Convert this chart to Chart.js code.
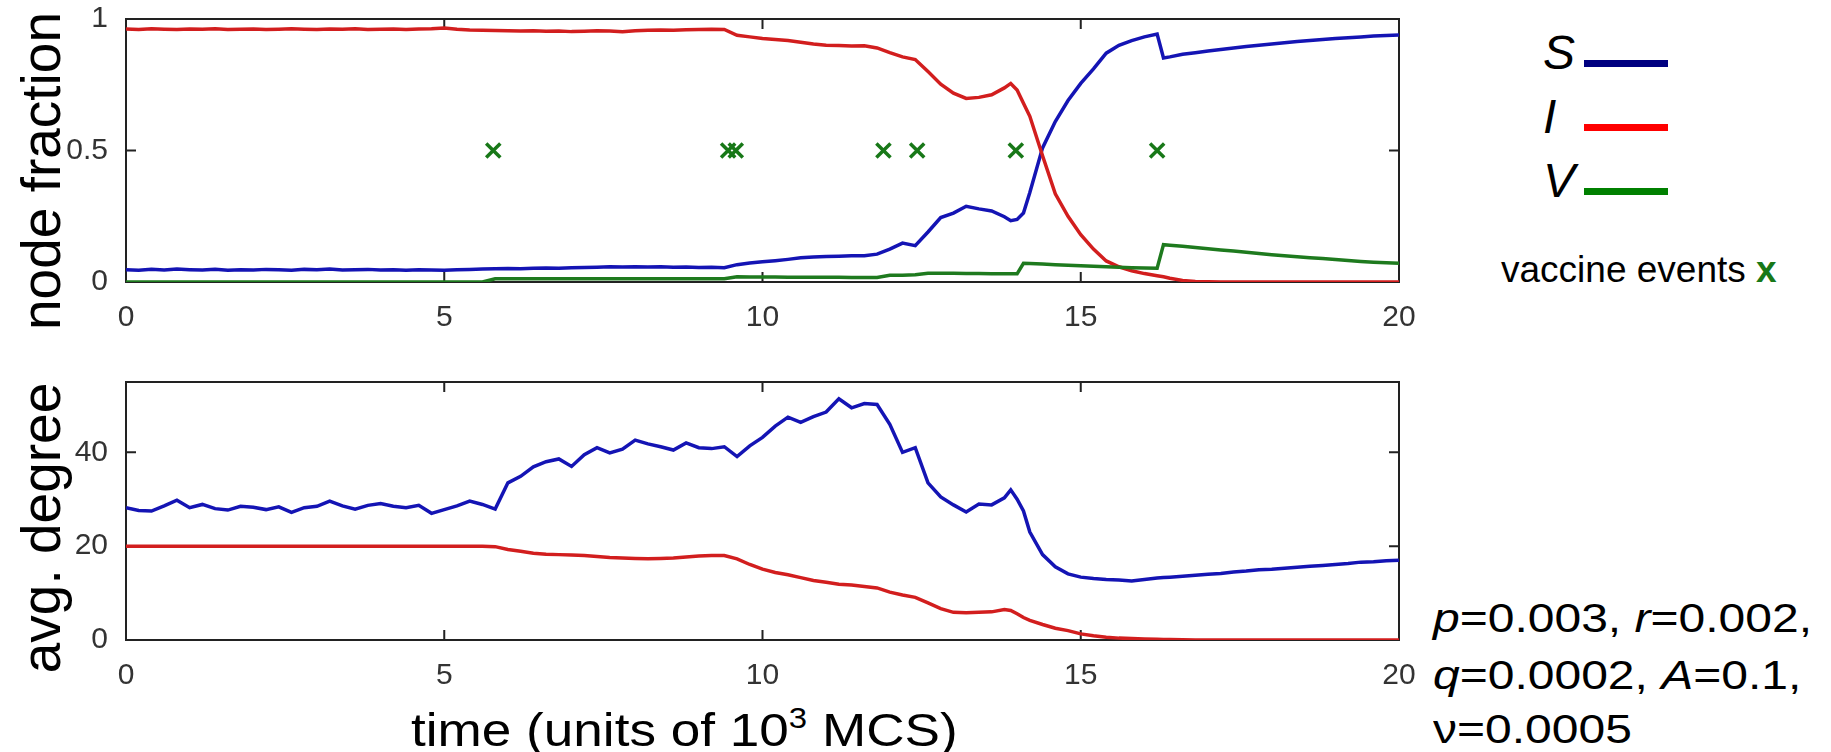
<!DOCTYPE html>
<html>
<head>
<meta charset="utf-8">
<script src="https://cdn.jsdelivr.net/npm/chart.js@4.4.1/dist/chart.umd.min.js"></script>
<style>
  html, body { margin: 0; padding: 0; background: #fff; }
  body { width: 1831px; height: 752px; position: relative; overflow: hidden;
         font-family: "Liberation Sans", Arial, sans-serif; color: #000; }
  canvas { position: absolute; left: 0; }
  #top { top: 0; }
  #bottom { top: 360px; }
  .txt { position: absolute; white-space: nowrap; line-height: 1; }
  .key { position: absolute; left: 1584px; width: 84px; height: 7px; }
  .it { font-style: italic; }
</style>
</head>
<body>
<canvas id="top" width="1420" height="340"></canvas>
<canvas id="bottom" width="1420" height="340"></canvas>

<div class="txt" id="yTitleTop">node fraction</div>
<div class="txt" id="yTitleBottom">avg. degree</div>
<div class="txt" id="xTitle">time (units of 10<span style="font-size:0.62em;position:relative;top:-0.62em">3</span> MCS)</div>

<div class="txt it" id="keyS">S</div>
<div class="txt it" id="keyI">I</div>
<div class="txt it" id="keyV">V</div>
<div class="key" style="top:60px;background:#000080"></div>
<div class="key" style="top:124px;background:#ff0000"></div>
<div class="key" style="top:188px;background:#008000"></div>
<div class="txt" id="events">vaccine events <b style="color:#187818">x</b></div>

<div class="txt" id="par1"><i>p</i>=0.003, <i>r</i>=0.002,</div>
<div class="txt" id="par2"><i>q</i>=0.0002, <i>A</i>=0.1,</div>
<div class="txt" id="par3">&nu;=0.0005</div>

<script>
// time in units of 10^3 MCS
const times = [
  0, 0.2, 0.4, 0.6, 0.8, 1.0, 1.2, 1.4, 1.6, 1.8,
  2.0, 2.2, 2.4, 2.6, 2.8, 3.0, 3.2, 3.4, 3.6, 3.8,
  4.0, 4.2, 4.4, 4.6, 4.8, 5.0, 5.2, 5.4, 5.6, 5.8,
  6.0, 6.2, 6.4, 6.6, 6.8, 7.0, 7.2, 7.4, 7.6, 7.8,
  8.0, 8.2, 8.4, 8.6, 8.8, 9.0, 9.2, 9.4, 9.6, 9.8,
  10.0, 10.2, 10.4, 10.6, 10.8, 11.0, 11.2, 11.4, 11.6, 11.8,
  12.0, 12.2, 12.4, 12.6, 12.8, 13.0, 13.2, 13.4, 13.6, 13.8,
  13.9, 14.0, 14.1, 14.2, 14.4, 14.6, 14.8, 15.0, 15.2, 15.4,
  15.6, 15.8, 16.0, 16.2, 16.3, 16.4, 16.6, 16.8, 17.0, 17.2,
  17.4, 17.6, 17.8, 18.0, 18.2, 18.4, 18.6, 18.8, 19.0, 19.2,
  19.4, 19.6, 19.8, 20.0
];

// node fractions
const sFrac = [
  0.047, 0.045, 0.048, 0.046, 0.049, 0.047, 0.046, 0.048, 0.045, 0.047,
  0.046, 0.048, 0.047, 0.045, 0.048, 0.047, 0.049, 0.046, 0.047, 0.048,
  0.046, 0.047, 0.045, 0.047, 0.046, 0.045, 0.047, 0.048, 0.049, 0.050,
  0.051, 0.050, 0.052, 0.053, 0.052, 0.054, 0.055, 0.056, 0.058, 0.057,
  0.058, 0.057, 0.058, 0.056, 0.057, 0.055, 0.056, 0.054, 0.066, 0.072,
  0.077, 0.081, 0.086, 0.092, 0.095, 0.097, 0.098, 0.100, 0.100, 0.106,
  0.125, 0.148, 0.138, 0.190, 0.245, 0.262, 0.288, 0.278, 0.270, 0.248,
  0.233, 0.238, 0.262, 0.340, 0.510, 0.610, 0.690, 0.755, 0.810, 0.870,
  0.900, 0.918, 0.932, 0.943, 0.852, 0.856, 0.866, 0.872, 0.878, 0.884,
  0.890, 0.895, 0.900, 0.905, 0.910, 0.914, 0.918, 0.922, 0.926, 0.929,
  0.932, 0.935, 0.937, 0.939
];
const iFrac = [
  0.962, 0.960, 0.963, 0.961, 0.960, 0.962, 0.961, 0.963, 0.960, 0.961,
  0.962, 0.960, 0.961, 0.963, 0.961, 0.960, 0.962, 0.961, 0.963, 0.960,
  0.961, 0.962, 0.960, 0.962, 0.963, 0.966, 0.961, 0.958, 0.957, 0.956,
  0.955, 0.954, 0.955, 0.953, 0.954, 0.952, 0.953, 0.955, 0.954, 0.952,
  0.955, 0.957, 0.958, 0.957, 0.959, 0.960, 0.961, 0.960, 0.938, 0.932,
  0.926, 0.922, 0.918, 0.912, 0.905, 0.900, 0.899, 0.897, 0.898, 0.890,
  0.872, 0.856, 0.846, 0.800, 0.752, 0.718, 0.698, 0.702, 0.712, 0.738,
  0.755, 0.730, 0.680, 0.630, 0.480, 0.335, 0.250, 0.180, 0.125, 0.080,
  0.058, 0.043, 0.032, 0.024, 0.020, 0.014, 0.006, 0.002, 0.001, 0,
  0, 0, 0, 0, 0, 0, 0, 0, 0, 0,
  0, 0, 0, 0
];
const vFrac = [
  0, 0, 0, 0, 0, 0, 0, 0, 0, 0,
  0, 0, 0, 0, 0, 0, 0, 0, 0, 0,
  0, 0, 0, 0, 0, 0, 0, 0, 0, 0.012,
  0.012, 0.012, 0.012, 0.012, 0.012, 0.012, 0.012, 0.012, 0.012, 0.012,
  0.012, 0.012, 0.012, 0.012, 0.012, 0.012, 0.012, 0.012, 0.020, 0.019,
  0.019, 0.019, 0.018, 0.018, 0.018, 0.018, 0.018, 0.017, 0.017, 0.017,
  0.026, 0.026, 0.028, 0.033, 0.033, 0.033, 0.032, 0.032, 0.031, 0.031,
  0.031, 0.031, 0.071, 0.070, 0.068, 0.066, 0.064, 0.062, 0.060, 0.058,
  0.056, 0.054, 0.053, 0.052, 0.142, 0.140, 0.136, 0.131, 0.126, 0.122,
  0.118, 0.113, 0.108, 0.104, 0.100, 0.096, 0.092, 0.089, 0.086, 0.082,
  0.078, 0.075, 0.073, 0.071
];

// average degree
const sDeg = [
  28.2, 27.6, 27.5, 28.6, 29.8, 28.2, 28.9, 28.0, 27.7, 28.5,
  28.3, 27.8, 28.4, 27.2, 28.2, 28.5, 29.6, 28.6, 27.9, 28.7,
  29.1, 28.5, 28.2, 28.7, 27.0, 27.8, 28.6, 29.6, 28.9, 27.9,
  33.5, 34.9, 36.9, 38.0, 38.6, 37.0, 39.5, 41.0, 39.9, 40.7,
  42.6, 41.8, 41.2, 40.5, 42.0, 41.0, 40.8, 41.2, 39.1, 41.4,
  43.2, 45.6, 47.5, 46.4, 47.6, 48.6, 51.4, 49.5, 50.4, 50.2,
  46.0, 40.0, 41.0, 33.5, 30.5, 28.8, 27.3, 29.0, 28.8, 30.3,
  32.0, 30.0, 27.5, 23.0, 18.2, 15.6, 14.1, 13.4, 13.1, 12.9,
  12.8, 12.6, 12.9, 13.2, 13.3, 13.4, 13.6, 13.8, 14.0, 14.2,
  14.5, 14.7, 15.0, 15.1, 15.3, 15.5, 15.7, 15.9, 16.1, 16.3,
  16.6, 16.7, 16.9, 17.0
];
const iDeg = [
  20.0, 20.0, 20.0, 20.0, 20.0, 20.0, 20.0, 20.0, 20.0, 20.0,
  20.0, 20.0, 20.0, 20.0, 20.0, 20.0, 20.0, 20.0, 20.0, 20.0,
  20.0, 20.0, 20.0, 20.0, 20.0, 20.0, 20.0, 20.0, 20.0, 19.9,
  19.3, 18.9, 18.5, 18.3, 18.2, 18.1, 18.0, 17.8, 17.6, 17.5,
  17.4, 17.3, 17.4, 17.5, 17.7, 17.9, 18.0, 18.0, 17.3, 16.1,
  15.1, 14.4, 13.9, 13.3, 12.7, 12.3, 11.9, 11.7, 11.4, 11.1,
  10.2, 9.6, 9.1, 7.9, 6.7, 5.9, 5.8, 5.9, 6.0, 6.5,
  6.3, 5.6, 4.8, 4.2, 3.3, 2.5, 2.0, 1.3, 0.9, 0.6,
  0.4, 0.3, 0.2, 0.15, 0.1, 0.1, 0.05, 0, 0, 0,
  0, 0, 0, 0, 0, 0, 0, 0, 0, 0,
  0, 0, 0, 0
];

// vaccine events (drawn at 0.5)
const eventTimes = [5.77, 9.46, 9.58, 11.9, 12.43, 13.98, 16.2];
const eventLevel = 0.5;

const xTicks = [0, 5, 10, 15, 20];
const fracTicks = [0, 0.5, 1];
const degTicks = [0, 20, 40];

const blue = '#1414b4';
const red = '#d21e1e';
const green = '#1e7a1e';
const tickFont = { family: '"Liberation Sans Narrow", "Liberation Sans", sans-serif', size: 30 };

function pts(ys) {
  return times.map((t, i) => ({ x: t, y: ys[i] }));
}

// box round the plot with matlab style inward ticks
const framePlugin = {
  id: 'frame',
  beforeDatasetsDraw(chart) {
    const { ctx, chartArea: a, scales } = chart;
    const x = scales.x, y = scales.y;
    ctx.save();
    ctx.strokeStyle = '#222';
    ctx.lineWidth = 2;
    ctx.strokeRect(a.left, a.top, a.right - a.left, a.bottom - a.top);
    ctx.beginPath();
    x.ticks.forEach(t => {
      const px = x.getPixelForValue(t.value);
      ctx.moveTo(px, a.bottom); ctx.lineTo(px, a.bottom - 10);
      ctx.moveTo(px, a.top); ctx.lineTo(px, a.top + 10);
    });
    y.ticks.forEach(t => {
      const py = y.getPixelForValue(t.value);
      ctx.moveTo(a.left, py); ctx.lineTo(a.left + 10, py);
      ctx.moveTo(a.right, py); ctx.lineTo(a.right - 10, py);
    });
    ctx.stroke();
    ctx.restore();
  }
};

function makeScales(yMax, yTicks, xHeight) {
  return {
    x: {
      type: 'linear', min: 0, max: 20,
      grid: { display: false }, border: { display: false },
      afterBuildTicks: s => { s.ticks = xTicks.map(v => ({ value: v })); },
      afterFit: s => { s.height = xHeight; s.paddingLeft = 0; s.paddingRight = 0; },
      ticks: { font: tickFont, color: '#333', padding: 10, maxRotation: 0, autoSkip: false,
               callback: v => String(v) }
    },
    y: {
      type: 'linear', min: 0, max: yMax,
      grid: { display: false }, border: { display: false },
      afterBuildTicks: s => { s.ticks = yTicks.map(v => ({ value: v })); },
      afterFit: s => { s.width = 126; s.paddingTop = 0; s.paddingBottom = 0; },
      ticks: { font: tickFont, color: '#333', padding: 10, autoSkip: false,
               callback: v => String(v) }
    }
  };
}

function baseOptions(padTop) {
  return {
    responsive: false,
    animation: false,
    layout: { padding: { top: padTop, right: 21, left: 0, bottom: 0 } },
    plugins: { legend: { display: false }, tooltip: { enabled: false } },
    elements: { point: { radius: 0 }, line: { borderWidth: 3.5, tension: 0 } }
  };
}

new Chart(document.getElementById('top'), {
  type: 'line',
  data: {
    datasets: [
      {
        type: 'scatter', label: 'vaccine events',
        data: eventTimes.map(t => ({ x: t, y: eventLevel })),
        pointStyle: 'crossRot', pointRadius: 10, borderWidth: 3.5,
        borderColor: '#187818', backgroundColor: '#187818', showLine: false
      },
      { label: 'V', data: pts(vFrac), borderColor: green },
      { label: 'I', data: pts(iFrac), borderColor: red },
      { label: 'S', data: pts(sFrac), borderColor: blue }
    ]
  },
  options: Object.assign(baseOptions(19), { scales: makeScales(1, fracTicks, 58) }),
  plugins: [framePlugin]
});

new Chart(document.getElementById('bottom'), {
  type: 'line',
  data: {
    datasets: [
      { label: 'I', data: pts(iDeg), borderColor: red },
      { label: 'S', data: pts(sDeg), borderColor: blue }
    ]
  },
  options: Object.assign(baseOptions(22), { scales: makeScales(55, degTicks, 60) }),
  plugins: [framePlugin]
});

// text placement, by baseline
function put(id, x, baseline, size, stretch) {
  const el = document.getElementById(id);
  el.style.fontSize = size + 'px';
  el.style.left = x + 'px';
  el.style.top = (baseline - 0.8465 * size) + 'px';
  if (stretch) {
    el.style.transformOrigin = 'left center';
    el.style.transform = 'scaleX(' + stretch + ')';
  }
}
function putRotated(id, baselineX, centerY, size) {
  const el = document.getElementById(id);
  el.style.fontSize = size + 'px';
  el.style.left = (baselineX - 0.3465 * size) + 'px';
  el.style.top = centerY + 'px';
  el.style.transform = 'translate(-50%, -50%) rotate(-90deg)';
}

putRotated('yTitleTop', 60, 171, 55);
putRotated('yTitleBottom', 60, 528, 55);
put('xTitle', 411, 746, 47, 1.13);

put('keyS', 1543, 70, 48);
put('keyI', 1543, 134, 48);
put('keyV', 1543, 198, 48);
put('events', 1501, 282, 37);

put('par1', 1433, 632, 40, 1.2);
put('par2', 1433, 689, 40, 1.2);
put('par3', 1433, 743, 40, 1.2);
</script>
</body>
</html>
